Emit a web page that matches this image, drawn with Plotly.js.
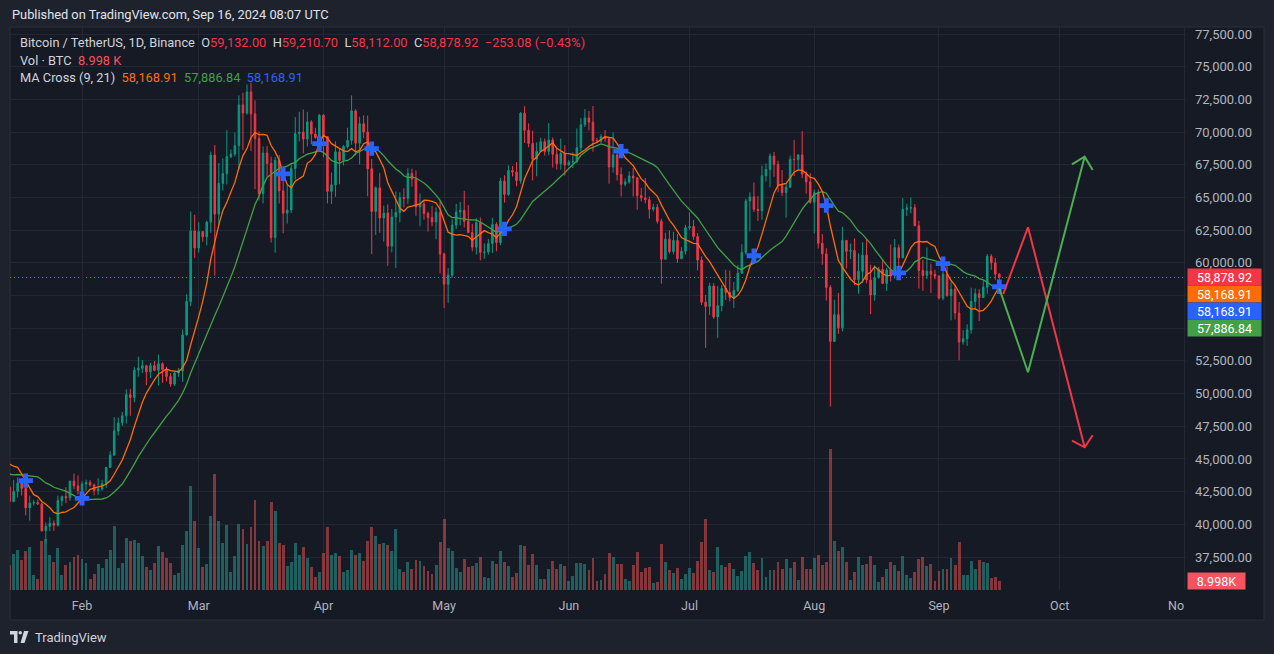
<!DOCTYPE html>
<html>
<head>
<meta charset="utf-8">
<script src="https://cdn.plot.ly/plotly-3.0.1.min.js"></script>
<style>
  html, body { margin: 0; padding: 0; background: #1e222d; }
  #chart { width: 1274px; height: 654px; }
</style>
</head>
<body>
<div id="chart"></div>
<script>
// BTC/USDT daily (Binance), 25 Dec 2023 .. 16 Sep 2024.
// The first 20 days are off screen, they only feed the moving averages.
var firstDay = Date.UTC(2023, 11, 25);
var firstOpen = 43017;

var closes = [
  43613, 42520, 43442, 42627, 42099, 42156, 42283,
  // Jan
  44180, 44946, 42845, 44151, 44162, 43989, 43943, 46970, 46139, 46628, 46368, 42853, 42842, 41733, 42511, 43155,
  42742, 41262, 41619, 41665, 41545, 39507, 39846, 40077, 39934, 41816, 42120, 42031, 43302, 42941, 42580,
  // Feb
  43082, 43200, 43011, 42582, 42708, 43098, 44349, 45289, 47132, 47751, 48299, 49917, 49699, 51795, 51937, 52130,
  51661, 52138, 51779, 52284, 51839, 51305, 50731, 51571, 51733, 54477, 57038, 62432, 61130,
  // Mar
  62387, 61987, 63113, 68245, 63724, 66074, 66823, 68124, 68313, 68955, 72078, 71452, 73072, 71388, 69500, 65300,
  68394, 67610, 61937, 67840, 65501, 63796, 64037, 67211, 69881, 69988, 69469, 70780, 69850, 69582, 71280,
  // Apr
  69649, 65463, 65963, 68488, 67838, 68897, 69360, 71620, 69146, 70631, 70007, 67195, 63924, 65738, 63426,
  63811, 61276, 63512, 63844, 64994, 64926, 66837, 66408, 64276, 64498, 63770, 63461, 63118, 63866, 60672,
  // May
  58364, 59060, 62882, 63892, 64012, 63165, 62312, 61193, 63075, 60799, 60825, 61484, 62937, 61553, 66255, 65231,
  67051, 66940, 66278, 71446, 70137, 69122, 67929, 68526, 69265, 68519, 69394, 68296, 67579, 68364, 67491,
  // Jun
  67706, 67752, 68804, 70567, 71083, 70757, 69343, 69306, 69648, 69513, 67321, 68243, 66757, 66010, 66191,
  66640, 66490, 65140, 64960, 64828, 64096, 64252, 63181, 60277, 61807, 60864, 61707, 60320, 60887, 62678,
  // Jul
  62773, 62011, 60209, 56990, 56663, 58231, 55857, 56715, 58050, 57725, 57335, 57889, 59204, 60797, 64724, 65043,
  64087, 63988, 66660, 67140, 68165, 67532, 65936, 65372, 65777, 67907, 67896, 68249, 66784, 66189, 64628,
  // Aug
  65354, 61499, 60683, 58116, 53991, 56034, 55027, 61710, 60881, 60945, 58712, 59346, 60587, 58684, 57541, 58874,
  59491, 58427, 59438, 59014, 61158, 60381, 64094, 64178, 64220, 62834, 59415, 59034, 59359, 59123, 58973,
  // Sep
  57301, 59132, 57487, 57971, 56160, 53950, 54198.45, 54872.27, 57043, 57631, 57339, 58132, 60499, 59993, 59132, 58878.92
];

var highs = [
  43800, 43650, 43690, 43800, 43120, 42600, 42900,
  44185, 45900, 45500, 44730, 44500, 44230, 44500, 47250, 47900, 47700, 48970, 46500, 43250, 43080, 43400, 43580,
  43200, 42930, 42200, 41850, 41880, 41650, 40130, 40550, 40300, 42200, 42200, 42840, 43310, 43880, 43740,
  43290, 43420, 43380, 43120, 43530, 43400, 44400, 45600, 48200, 48170, 48590, 50330, 50370, 52040, 52820, 52570,
  52200, 52350, 52490, 52970, 52390, 52050, 51550, 51700, 51950, 54900, 57590, 63930, 63680,
  63100, 62430, 63230, 68500, 69000, 67630, 67990, 70140, 68670, 69960, 72800, 73000, 73650, 73777, 72420, 70040,
  68900, 68930, 68120, 68100, 68240, 66650, 65970, 67620, 71150, 71560, 71730, 71550, 70900, 70320, 71370,
  71370, 69670, 66910, 69290, 68720, 69000, 70330, 72800, 71750, 71170, 71280, 71260, 67930, 65840, 66870,
  64370, 64470, 64120, 65450, 65390, 65700, 67230, 67200, 67070, 65300, 64800, 63920, 64360, 64230, 64730,
  60780, 59600, 63320, 64500, 64650, 65500, 64420, 62990, 63420, 63470, 61490, 61820, 63450, 63100, 66500, 66700,
  67450, 67400, 67700, 71520, 71980, 70660, 70100, 69220, 69560, 69500, 70690, 69580, 68900, 69500, 69000,
  67860, 68450, 70280, 71060, 71760, 71620, 71990, 69560, 69850, 70150, 69560, 69990, 68450, 67300, 66450,
  66980, 67250, 66560, 65730, 66480, 65060, 64520, 64500, 63370, 62300, 62480, 62370, 62200, 61200, 62900,
  63860, 63280, 62280, 60500, 57540, 58470, 58450, 58240, 58300, 59470, 59400, 58530, 59850, 61420, 64900, 65390,
  66130, 65100, 67440, 67600, 68370, 68480, 67810, 67100, 66110, 68200, 69400, 68320, 70080, 66990, 66850,
  65600, 65600, 62200, 61120, 58300, 57180, 57700, 62750, 61750, 61470, 61850, 60720, 61570, 61800, 59850, 59800,
  59690, 60270, 59620, 61400, 61820, 61400, 64950, 64520, 65000, 64480, 63210, 60240, 61180, 59940, 59460,
  59060, 59420, 59820, 58520, 58330, 57000, 54850, 55300, 58100, 58040, 57990, 58600, 60670, 60660, 60380, 59210.7
];

var lows = [
  42720, 41700, 42100, 42300, 41300, 41520, 41970,
  42180, 44150, 40750, 42630, 42450, 43400, 43600, 43200, 44300, 44300, 45600, 41500, 41720, 41720, 41720, 42050,
  42200, 40680, 40280, 41440, 41500, 39430, 38555, 39480, 39500, 39820, 41400, 41620, 41800, 42680, 42280,
  41880, 42560, 42880, 42220, 42260, 42570, 42790, 44330, 45250, 46800, 47520, 47710, 48300, 49340, 51300, 51570,
  50630, 51180, 51700, 50620, 50830, 50930, 50520, 50580, 51280, 50900, 54450, 56690, 60360,
  60770, 61600, 61320, 62300, 59005, 62850, 65530, 66000, 68000, 68120, 67190, 68620, 71330, 68555, 65630, 64780,
  64550, 66600, 61550, 60780, 64530, 62260, 63000, 63800, 66380, 69280, 68380, 68900, 69070, 69480, 69560,
  68060, 64550, 64490, 65050, 66010, 67450, 68740, 69040, 68210, 67520, 69560, 65090, 60660, 62130, 62300,
  61620, 59770, 60800, 59600, 63090, 64240, 64500, 65820, 63600, 62790, 63300, 62400, 62800, 61800, 59190,
  56550, 56940, 58850, 62580, 62860, 62700, 62270, 60880, 60630, 60190, 60300, 60630, 60750, 60880, 61350, 64600,
  65120, 66600, 65860, 66060, 69160, 68840, 66300, 66620, 68500, 68200, 68230, 67280, 67130, 67120, 66670,
  67390, 67260, 67610, 68510, 70380, 70120, 68500, 69200, 69150, 69230, 66050, 66900, 66300, 65080, 65850,
  66050, 65070, 64060, 64690, 64550, 63380, 63940, 63000, 58400, 60250, 60700, 60650, 60000, 60270, 60630,
  62500, 61760, 59420, 56780, 53500, 56010, 55720, 54260, 56290, 57150, 57050, 56540, 57760, 59260, 60630, 62400,
  63880, 63200, 63300, 66220, 65780, 66570, 65400, 65100, 63450, 65740, 66650, 67070, 66480, 65300, 64530,
  62250, 61100, 59850, 57120, 49000, 53960, 54560, 54750, 59570, 60280, 58280, 57640, 58450, 58430, 56080, 57100,
  58780, 58410, 57850, 58570, 58780, 59700, 60350, 63570, 63780, 62800, 58030, 57860, 58750, 57700, 58740,
  57200, 57130, 57410, 55600, 55670, 52550, 53740, 53650, 54590, 56400, 55550, 57320, 57630, 59470, 58700, 58112
];

// volume in thousand BTC, 14 Jan .. 16 Sep 2024
var volumes = [
  25, 36, 40, 30, 39, 43, 15, 11, 49, 51, 35, 28, 42, 15, 25, 28, 33, 35, 31, 27,
  11, 16, 26, 22, 31, 40, 64, 22, 27, 52, 49, 50, 47, 34, 23, 20, 27, 44, 38, 32,
  27, 15, 17, 45, 59, 104, 69, 42, 23, 26, 74, 116, 69, 47, 65, 18, 34, 66, 61, 46,
  63, 90, 49, 44, 49, 88, 79, 47, 45, 24, 28, 47, 35, 43, 32, 23, 13, 18, 37, 63,
  35, 37, 34, 18, 20, 40, 35, 37, 29, 49, 63, 54, 46, 47, 45, 39, 61, 21, 18, 28,
  21, 30, 29, 24, 19, 16, 25, 48, 71, 42, 39, 22, 18, 31, 23, 24, 27, 33, 13, 12,
  29, 26,
  39, 28, 24, 13, 17, 45, 44, 25, 36, 25, 11, 11, 21, 29, 21, 26, 24, 9, 14, 27,
  27, 26, 20, 32, 9, 10, 16, 37, 33, 26, 26, 11, 9, 25, 38, 18, 22, 23, 7, 8,
  46, 28, 20, 17, 22, 11, 16, 22, 17, 29, 48, 71, 20, 18, 43, 25, 23, 27, 21, 14,
  19, 34, 38, 27, 20, 32, 13, 20, 20, 28, 21, 31, 22, 28, 10, 33, 21, 21, 32, 35,
  25, 28, 141, 49, 39, 43, 28, 10, 18, 33, 25, 26, 34, 25, 8, 13, 21, 28, 25, 19,
  34, 15, 12, 18, 31, 33, 24, 26, 9, 19, 21, 21, 32, 25, 48, 15, 15, 29, 21, 30,
  28, 27, 12, 13, 8.998
];

// hand drawn projection lines
var redLineX = ['2024-09-16 23:30', '2024-09-23 03:00', '2024-10-07 05:00'];
var redLineY = [57615, 62716, 45890];
var redHeadX = ['2024-10-04 01:10', '2024-10-07 05:00', '2024-10-09 04:50'];
var redHeadY = [46395, 45890, 46808];
var greenLineX = ['2024-09-15 23:30', '2024-09-23 03:00', '2024-10-07 05:00'];
var greenLineY = [58051, 51626, 68116];
var greenHeadX = ['2024-10-04 01:10', '2024-10-07 05:00', '2024-10-09 04:50'];
var greenHeadY = [67534, 68116, 67098];

var FONT = 'Roboto, "Liberation Sans", sans-serif';
var UP = '#089981', DOWN = '#f23645';
var Y2MIN = 34976, Y2MAX = 78035;
var LABEL_STEP = 17;

// dates and opens
var dates = [];
for (var i = 0; i < closes.length; i++) {
  dates.push(new Date(firstDay + i * 86400000).toISOString().slice(0, 10));
}
var opens = [firstOpen].concat(closes.slice(0, -1));

function sma(arr, n) {
  return arr.map(function (v, i) {
    if (i < n - 1) return null;
    var s = 0;
    for (var k = i - n + 1; k <= i; k++) s += arr[k];
    return s / n;
  });
}
var ma9 = sma(closes, 9);
var ma21 = sma(closes, 21);

// crossing points of the two averages
var crossX = [], crossY = [];
for (var i = 21; i < closes.length; i++) {
  var a = ma9[i - 1] - ma21[i - 1], b = ma9[i] - ma21[i];
  if ((a < 0 && b >= 0) || (a > 0 && b <= 0)) {
    crossX.push(dates[i]);
    crossY.push(ma9[i]);
  }
}

var vis = closes.length - volumes.length;  // index of 14 Jan
var volX = dates.slice(vis);
var volColors = volX.map(function (d, j) {
  var i = j + vis;
  return closes[i] >= opens[i] ? 'rgba(38,166,154,0.5)' : 'rgba(239,83,80,0.5)';
});

var last = closes.length - 1;
function fmt(v) {
  return v.toLocaleString('en-US', { minimumFractionDigits: 2, maximumFractionDigits: 2 });
}
function fmtSigned(v) {
  return (v < 0 ? '\u2212' : '+') + fmt(Math.abs(v));
}

// pixel helpers for things placed on the page
function px(x) { return (x - 10) / 1176; }
function py(y) { return (590 - y) / 563; }
function priceToPy(p) { return 27 + (Y2MAX - p) * 563 / (Y2MAX - Y2MIN); }
function path(pts) {
  return 'M' + pts.map(function (p) { return px(p[0]) + ',' + py(p[1]); }).join(' L') + ' Z';
}

// price ticks; labels hidden where the coloured value labels sit
var top0 = priceToPy(closes[last]);
var stackTop = top0 - 8, stackBottom = top0 + 3 * LABEL_STEP + 8;
var priceTicks = [], priceTickText = [];
for (var t = 37500; t <= 77500; t += 2500) {
  var yy = priceToPy(t);
  priceTicks.push(t);
  priceTickText.push(yy > stackTop - 2 && yy < stackBottom + 2 ? '' : fmt(t));
}

var traces = [
  {
    type: 'bar', x: volX, y: volumes, xaxis: 'x', yaxis: 'y',
    marker: { color: volColors, line: { width: 0 } },
    width: 0.72 * 86400000, hoverinfo: 'skip'
  },
  {
    type: 'candlestick', x: dates, open: opens, high: highs, low: lows, close: closes,
    xaxis: 'x', yaxis: 'y2', whiskerwidth: 0,
    increasing: { line: { color: UP, width: 1 }, fillcolor: UP },
    decreasing: { line: { color: DOWN, width: 1 }, fillcolor: DOWN },
    hoverinfo: 'skip'
  },
  {
    type: 'scatter', mode: 'lines', x: dates, y: ma21, yaxis: 'y2',
    line: { color: '#43a047', width: 1.3 }, hoverinfo: 'skip'
  },
  {
    type: 'scatter', mode: 'lines', x: dates, y: ma9, yaxis: 'y2',
    line: { color: '#ff6d00', width: 1.3 }, hoverinfo: 'skip'
  },
  {
    type: 'scatter', mode: 'markers', x: crossX, y: crossY, yaxis: 'y2',
    marker: { symbol: 'cross', size: 12, color: '#2962ff', line: { width: 0 } }, hoverinfo: 'skip'
  },
  {
    type: 'scatter', mode: 'lines', yaxis: 'y2',
    x: redLineX.concat([null], redHeadX), y: redLineY.concat([null], redHeadY),
    line: { color: '#f23645', width: 2 }, hoverinfo: 'skip'
  },
  {
    type: 'scatter', mode: 'lines', yaxis: 'y2',
    x: greenLineX.concat([null], greenHeadX), y: greenLineY.concat([null], greenHeadY),
    line: { color: '#4caf50', width: 2 }, hoverinfo: 'skip'
  }
];

var grey = '#d1d4dc';
function span(c, s) { return '<span style="color:' + c + '">' + s + '</span>'; }
var nb = '\u00a0\u00a0';
var chg = closes[last] - closes[last - 1];
var line1 = 'Bitcoin / TetherUS, 1D, Binance' + nb +
  'O' + span(DOWN, fmt(opens[last])) + nb +
  'H' + span(DOWN, fmt(highs[last])) + nb +
  'L' + span(DOWN, fmt(lows[last])) + nb +
  'C' + span(DOWN, fmt(closes[last])) + nb +
  span(DOWN, fmtSigned(chg) + ' (' + fmtSigned(chg / closes[last - 1] * 100) + '%)');
var volText = volumes[volumes.length - 1].toFixed(3);
var line2 = 'Vol \u00b7 BTC' + nb + span('#f7525f', volText + ' K');
var line3 = 'MA Cross (9, 21)' + nb + span('#ff6d00', fmt(ma9[last])) + nb +
  span('#43a047', fmt(ma21[last])) + nb + span('#2962ff', fmt(crossY[crossY.length - 1]));

var annotations = [
  { text: 'Published on TradingView.com, Sep 16, 2024 08:07 UTC', x: px(10), y: py(15),
    font: { family: FONT, size: 12.8, color: '#e0e3eb' } },
  { text: line1, x: px(18), y: py(43), font: { family: FONT, size: 12.8, color: grey } },
  { text: line2, x: px(18), y: py(60), font: { family: FONT, size: 12.8, color: grey } },
  { text: line3, x: px(18), y: py(77), font: { family: FONT, size: 12.8, color: grey } },
  { text: 'No', x: 1, y: py(605), xanchor: 'right', font: { family: FONT, size: 12.5, color: '#b2b5be' } },
  { text: 'TradingView', x: px(33), y: py(637), font: { family: FONT, size: 13, color: grey } }
].map(function (a) {
  return Object.assign({ xref: 'paper', yref: 'paper', xanchor: 'left', yanchor: 'middle',
    showarrow: false }, a);
});

// stacked price labels on the right axis
var priceLabels = [
  [closes[last], '#f23645'],
  [ma9[last], '#ff6d00'],
  [crossY[crossY.length - 1], '#2962ff'],
  [ma21[last], '#43a047']
];
priceLabels.forEach(function (lab, k) {
  annotations.push({
    xref: 'paper', yref: 'paper', x: 1, xshift: 1, y: py(top0 + k * LABEL_STEP),
    xanchor: 'left', yanchor: 'middle', showarrow: false,
    text: fmt(lab[0]), bgcolor: lab[1], width: 72, height: 15, borderpad: 0.5,
    font: { family: FONT, size: 12.5, color: '#ffffff' }
  });
});
annotations.push({
  xref: 'paper', yref: 'paper', x: 1, xshift: 1, y: py(581),
  xanchor: 'left', yanchor: 'middle', showarrow: false,
  text: volText + 'K', bgcolor: '#f7525f', width: 56, height: 15, borderpad: 0.5,
  font: { family: FONT, size: 12.5, color: '#ffffff' }
});

var shapes = [
  { type: 'rect', xref: 'paper', yref: 'paper', x0: px(10), x1: px(1264), y0: py(27), y1: py(620),
    fillcolor: '#161a25', line: { color: '#2a2e39', width: 1 }, layer: 'below' },
  { type: 'line', xref: 'paper', yref: 'y2', x0: 0, x1: 1, y0: closes[last], y1: closes[last],
    line: { color: '#f23645', width: 1, dash: '1px,3px' }, layer: 'below' },
  // TradingView logo
  { type: 'path', xref: 'paper', yref: 'paper', path: path([[10, 631], [17.5, 631], [17.5, 643], [14, 643], [14, 634.5], [10, 634.5]]),
    fillcolor: grey, line: { width: 0 } },
  { type: 'circle', xref: 'paper', yref: 'paper', x0: px(18.5), x1: px(22), y0: py(631), y1: py(634.5),
    fillcolor: grey, line: { width: 0 } },
  { type: 'path', xref: 'paper', yref: 'paper', path: path([[24, 631], [28.5, 631], [24.5, 643], [20.5, 643]]),
    fillcolor: grey, line: { width: 0 } }
];

var layout = {
  width: 1274, height: 654,
  margin: { l: 10, r: 88, t: 27, b: 64 },
  paper_bgcolor: '#1e222d', plot_bgcolor: '#161a25',
  showlegend: false, boxgap: 0.45, bargap: 0,
  xaxis: {
    type: 'date', range: ['2024-01-14 02:24', '2024-11-01 09:36'],
    rangeslider: { visible: false }, fixedrange: true,
    showgrid: true, gridcolor: '#232733', gridwidth: 1, zeroline: false, showline: false,
    dtick: 'M1', tick0: '2024-01-01', tickformat: '%b', ticks: '',
    tickfont: { family: FONT, size: 12.5, color: '#b2b5be' },
    ticklabelstandoff: 6, ticklabeloverflow: 'hide past domain'
  },
  yaxis: { range: [0, 563], visible: false, fixedrange: true },
  yaxis2: {
    overlaying: 'y', side: 'right', range: [Y2MIN, Y2MAX], fixedrange: true,
    tickmode: 'array', tickvals: priceTicks, ticktext: priceTickText, ticks: '',
    showgrid: true, gridcolor: '#232733', zeroline: false, showline: false,
    tickfont: { family: FONT, size: 13, color: '#b2b5be' }, ticklabelstandoff: 8
  },
  shapes: shapes,
  annotations: annotations
};

Plotly.newPlot('chart', traces, layout, { displayModeBar: false, staticPlot: true });
</script>
</body>
</html>
